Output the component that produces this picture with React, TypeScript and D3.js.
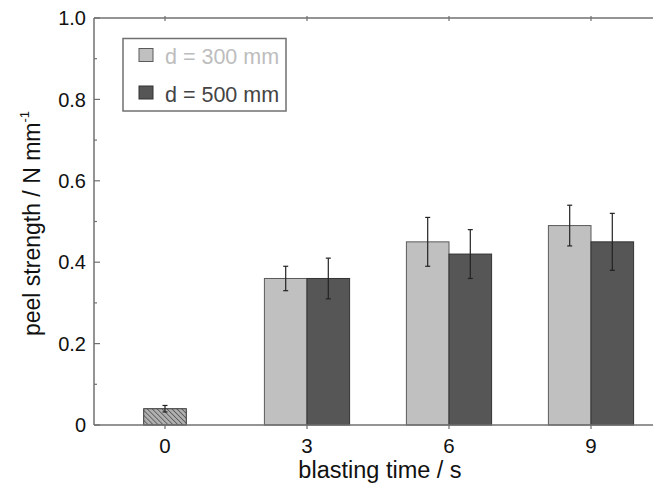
import React from "react";
import * as d3 from "d3";

// Blasting time (s) for the treated samples
const blastTimes = [3, 6, 9];
// Peel strength (N/mm) at nozzle distance d = 300 mm
const d300Values = [0.36, 0.45, 0.49];
const d300Errors = [0.03, 0.06, 0.05];
// Peel strength (N/mm) at nozzle distance d = 500 mm
const d500Values = [0.36, 0.42, 0.45];
const d500Errors = [0.05, 0.06, 0.07];
// Untreated reference (0 s)
const refTime = [0];
const refValue = [0.04];
const refError = [0.008];

const xTicks = [0, 3, 6, 9];
const yMajorTicks = [0, 0.2, 0.4, 0.6, 0.8, 1.0];
const yMinorTicks = [0.1, 0.3, 0.5, 0.7, 0.9];
const yTickLabels = ["0", "0.2", "0.4", "0.6", "0.8", "1.0"];
const seriesLabels = ["d = 300 mm", "d = 500 mm"];

const W = 653;
const H = 488;
const M = { left: 94, top: 18, right: 662, bottom: 425 };
const FONT = "'Liberation Sans', Arial, Helvetica, sans-serif";

const LIGHT = "#c0c0c0";
const LIGHT_STROKE = "#5a5a5a";
const DARK = "#565656";
const DARK_STROKE = "#333333";
const AXIS = "#707070";

export default function App() {
  const x = d3.scaleLinear().domain([-1.5, 10.5]).range([M.left, M.right]);
  const y = d3.scaleLinear().domain([0, 1]).range([M.bottom, M.top]);
  const bw = x(0.9) - x(0);

  const errorBar = (cx: number, v: number, e: number, key: string) => {
    const cap = 2.5;
    return (
      <g key={key} stroke="#222" strokeWidth={1.2}>
        <line x1={cx} x2={cx} y1={y(v + e)} y2={y(v - e)} />
        <line x1={cx - cap} x2={cx + cap} y1={y(v + e)} y2={y(v + e)} />
        <line x1={cx - cap} x2={cx + cap} y1={y(v - e)} y2={y(v - e)} />
      </g>
    );
  };

  return (
    <svg
      width={W}
      height={H}
      style={{ position: "absolute", left: 0, top: 0, background: "#fff" }}
      fontFamily={FONT}
    >
      <defs>
        <pattern id="hatch" patternUnits="userSpaceOnUse" width={3.5} height={3.5} patternTransform="rotate(-45)">
          <rect width={3.5} height={3.5} fill="#b0b0b0" />
          <line x1={0} y1={0} x2={0} y2={3.5} stroke="#555" strokeWidth={1.6} />
        </pattern>
      </defs>

      {/* bars */}
      {refTime.map((t, i) => (
        <g key={`ref-${i}`}>
          <rect
            x={x(t) - bw / 2}
            y={y(refValue[i])}
            width={bw}
            height={y(0) - y(refValue[i])}
            fill="url(#hatch)"
            stroke={DARK_STROKE}
            strokeWidth={1}
          />
          {errorBar(x(t), refValue[i], refError[i], `re-${i}`)}
        </g>
      ))}
      {blastTimes.map((t, i) => (
        <g key={`g-${t}`}>
          <rect
            x={x(t) - bw}
            y={y(d300Values[i])}
            width={bw}
            height={y(0) - y(d300Values[i])}
            fill={LIGHT}
            stroke={LIGHT_STROKE}
            strokeWidth={1}
          />
          <rect
            x={x(t)}
            y={y(d500Values[i])}
            width={bw}
            height={y(0) - y(d500Values[i])}
            fill={DARK}
            stroke={DARK_STROKE}
            strokeWidth={1}
          />
          {errorBar(x(t) - bw / 2, d300Values[i], d300Errors[i], `e3-${t}`)}
          {errorBar(x(t) + bw / 2, d500Values[i], d500Errors[i], `e5-${t}`)}
        </g>
      ))}

      {/* frame */}
      <g stroke={AXIS} strokeWidth={1.5} fill="none">
        <line x1={M.left} x2={M.right} y1={M.bottom} y2={M.bottom} />
        <line x1={M.left} x2={M.right} y1={M.top} y2={M.top} />
        <line x1={M.left} x2={M.left} y1={M.top} y2={M.bottom} />
      </g>

      {/* y ticks */}
      <g stroke={AXIS} strokeWidth={1.2}>
        {yMajorTicks.map((v) => (
          <line key={`ym-${v}`} x1={M.left} x2={M.left + 6} y1={y(v)} y2={y(v)} />
        ))}
        {yMinorTicks.map((v) => (
          <line key={`yn-${v}`} x1={M.left} x2={M.left + 3} y1={y(v)} y2={y(v)} />
        ))}
      </g>
      {yMajorTicks.map((v, i) => (
        <text
          key={`yl-${v}`}
          x={M.left - 8}
          y={y(v)}
          dy="0.36em"
          textAnchor="end"
          fontSize={20}
          fill="#111"
        >
          {yTickLabels[i]}
        </text>
      ))}

      {/* x ticks */}
      <g stroke={AXIS} strokeWidth={1.2}>
        {xTicks.map((v) => (
          <g key={`xt-${v}`}>
            <line x1={x(v)} x2={x(v)} y1={M.bottom} y2={M.bottom + 4} />
            <line x1={x(v)} x2={x(v)} y1={M.top - 2} y2={M.top + 3} />
          </g>
        ))}
      </g>
      {xTicks.map((v) => (
        <text key={`xl-${v}`} x={x(v)} y={452.5} textAnchor="middle" fontSize={20.5} fill="#111">
          {v}
        </text>
      ))}

      {/* axis titles */}
      <text x={380} y={478} textAnchor="middle" fontSize={23.5} fill="#111">
        blasting time / s
      </text>
      <text
        transform={`translate(40, ${(M.top + M.bottom) / 2 + 2}) rotate(-90)`}
        textAnchor="middle"
        fontSize={23}
        fill="#111"
      >
        peel strength / N mm
        <tspan dy={-11} fontSize={13}>-1</tspan>
      </text>

      {/* legend */}
      <rect x={123} y={38.5} width={163} height={72.5} fill="#fff" stroke={AXIS} strokeWidth={1.5} />
      <rect x={139} y={48.5} width={14} height={13} fill={LIGHT} stroke={LIGHT_STROKE} strokeWidth={1} />
      <rect x={139} y={86} width={14} height={13} fill={DARK} stroke={DARK_STROKE} strokeWidth={1} />
      <text x={165} y={64} fontSize={21.5} fill="#bdbdbd">{seriesLabels[0]}</text>
      <text x={165} y={101.5} fontSize={21.5} fill="#444">{seriesLabels[1]}</text>
    </svg>
  );
}
